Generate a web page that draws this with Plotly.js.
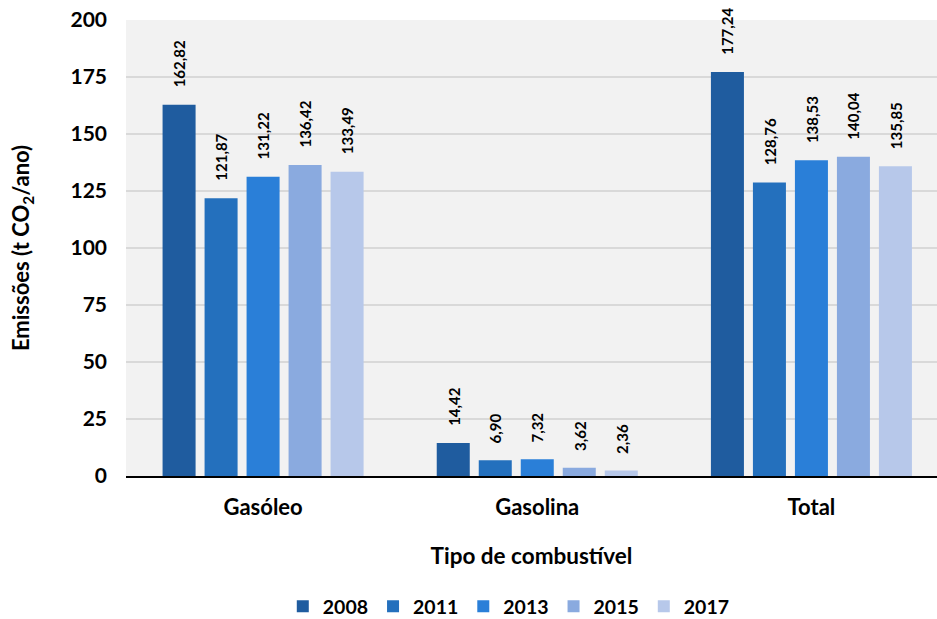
<!DOCTYPE html>
<html>
<head>
<meta charset="utf-8">
<script src="https://cdn.plot.ly/plotly-3.0.1.min.js"></script>
<style>
  html, body { margin: 0; padding: 0; background: #ffffff; }
  #chart { width: 937px; height: 619px; }
</style>
</head>
<body>
<div id="chart"></div>
<script>
// Emissões por tipo de combustível, por ano
const categories = ['Gasóleo', 'Gasolina', 'Total'];
const years = ['2008', '2011', '2013', '2015', '2017'];
const values2008 = [162.82, 14.42, 177.24];
const values2011 = [121.87, 6.90, 128.76];
const values2013 = [131.22, 7.32, 138.53];
const values2015 = [136.42, 3.62, 140.04];
const values2017 = [133.49, 2.36, 135.85];
const yTicks = [0, 25, 50, 75, 100, 125, 150, 175, 200];

const series = [values2008, values2011, values2013, values2015, values2017];
const colors = ['#1f5c9f', '#2470bd', '#2a7fd8', '#8aaadf', '#b7c8ea'];
const FONT = 'Lato, "Open Sans", sans-serif';

const fmt = v => v.toFixed(2).replace('.', ',');

const BARGAP = 0.234;
const GROUPGAP = 0.214;

const traces = series.map((vals, i) => ({
  type: 'bar',
  name: years[i],
  x: categories,
  y: vals,
  marker: { color: colors[i] },
  hoverinfo: 'skip'
}));

// Value labels above each bar, rotated vertically; x offset in category units
const nYears = years.length;
const slot = (1 - BARGAP) / nYears;
const annotations = [];
series.forEach((vals, i) => {
  vals.forEach((v, j) => {
    annotations.push({
      x: j + (i - (nYears - 1) / 2) * slot,
      y: v,
      xref: 'x',
      yref: 'y',
      yshift: 15,
      text: fmt(v),
      textangle: -90,
      showarrow: false,
      xanchor: 'center',
      yanchor: 'bottom',
      font: { family: FONT, size: 15, color: '#000000', weight: 700 }
    });
  });
});

const layout = {
  width: 937,
  height: 619,
  margin: { l: 126, r: 0, t: 20, b: 143 },
  paper_bgcolor: '#ffffff',
  plot_bgcolor: '#f2f2f2',
  barmode: 'group',
  bargap: BARGAP,
  bargroupgap: GROUPGAP,
  font: { family: FONT, color: '#000000' },
  xaxis: {
    type: 'category',
    range: [-0.5, 2.458],
    automargin: false,
    tickfont: { family: FONT, size: 22, color: '#000000', weight: 700 },
    ticks: '',
    ticklabelstandoff: 11,
    showline: true,
    linecolor: '#000000',
    linewidth: 2,
    title: {
      text: 'Tipo de combustível',
      font: { family: FONT, size: 22.5, color: '#000000', weight: 700 },
      standoff: 29
    }
  },
  yaxis: {
    range: [0, 200],
    automargin: false,
    tickvals: yTicks,
    ticktext: yTicks.map(String),
    tickfont: { family: FONT, size: 21, color: '#000000', weight: 700 },
    ticklabelstandoff: 18,
    showgrid: true,
    gridcolor: '#d9d9d9',
    gridwidth: 2,
    zeroline: false,
    ticks: '',
    title: {
      text: 'Emissões (t CO<sub>2</sub>/ano)',
      font: { family: FONT, size: 22, color: '#000000', weight: 700 },
      standoff: 34
    }
  },
  legend: {
    orientation: 'h',
    x: 0.472,
    xanchor: 'center',
    yref: 'container',
    y: 0.02,
    yanchor: 'middle',
    font: { family: FONT, size: 19.5, color: '#000000', weight: 700 },
    traceorder: 'normal',
    itemwidth: 30
  },
  annotations: annotations,
  showlegend: true
};

Plotly.newPlot('chart', traces, layout, { displayModeBar: false, staticPlot: true });
</script>
</body>
</html>
